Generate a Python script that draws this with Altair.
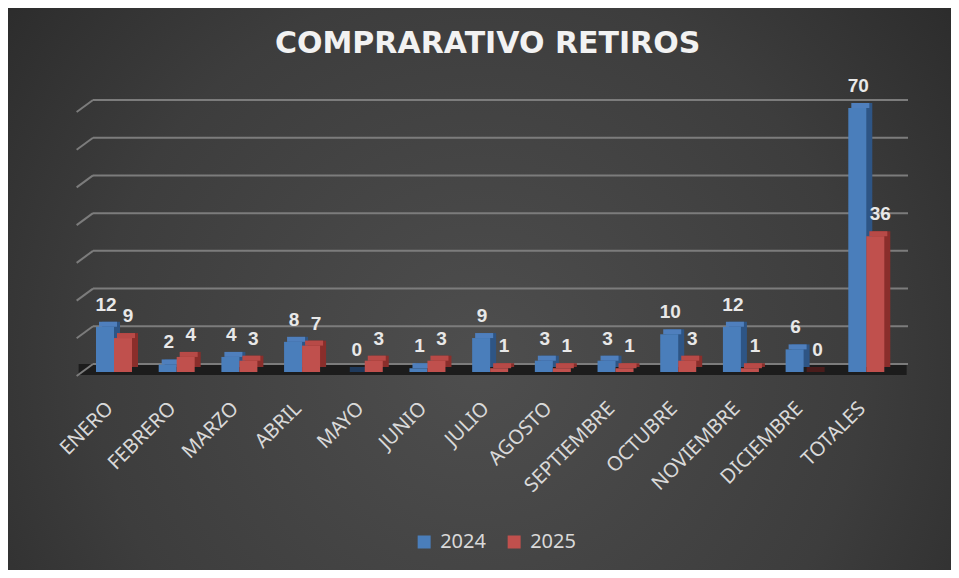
import altair as alt
import pandas as pd

# ---------------- data ----------------
months = ["ENERO", "FEBRERO", "MARZO", "ABRIL", "MAYO", "JUNIO", "JULIO",
          "AGOSTO", "SEPTIEMBRE", "OCTUBRE", "NOVIEMBRE", "DICIEMBRE", "TOTALES"]
values_2024 = [12, 2, 4, 8, 0, 1, 9, 3, 3, 10, 12, 6, 70]
values_2025 = [9, 4, 3, 7, 3, 3, 1, 1, 1, 3, 1, 0, 36]
series_names = ["2024", "2025"]
grid_values = [0, 10, 20, 30, 40, 50, 60, 70]
title_text = "COMPRARATIVO RETIROS"

rows = []
for m, a, b in zip(months, values_2024, values_2025):
    rows.append({"mes": m, "serie": series_names[0], "valor": a})
    rows.append({"mes": m, "serie": series_names[1], "valor": b})
df = pd.DataFrame(rows)
grid_df = pd.DataFrame({"v": grid_values})
title_df = pd.DataFrame({"t": [title_text]})

# ---------------- layout ----------------
W, H = 815, 264
PAD_L, PAD_T = 74.65, 100
CANVAS_W, CANVAS_H = 943, 562
PAD_R = CANVAS_W - PAD_L - W
PAD_B = CANVAS_H - PAD_T - H

BAR_W = 18
DEPTH_X, DEPTH_Y = 6, 5

front_colors = ["#4a7ebb", "#c0504d"]
top_colors = ["#4f7fbd", "#b84a47"]
side_colors = ["#2e5585", "#8a2e2b"]
flat_colors = ["#1f3a5c", "#4a1c1b"]

x_scale = alt.Scale(domain=months, paddingInner=0.4, paddingOuter=0.2)
y_scale = alt.Scale(domain=[0, 70], nice=False, zero=True)

X_AXIS = alt.Axis(title=None, labelAngle=-45, labelAlign="right", labelBaseline="middle",
                  labelFont="Noto Sans", labelFontSize=20, labelColor="#d9d9d9",
                  ticks=False, tickSize=0, domain=False, grid=False, labelPadding=33,
                  labelOffset=-4, zindex=1)

def X():
    return alt.X("mes:N", sort=months, scale=x_scale, axis=X_AXIS)

def Y():
    return alt.Y("valor:Q", scale=y_scale, axis=None)

# background radial gradient
bg = alt.Chart(title_df).mark_rect(
    color={"gradient": "radial",
           "stops": [{"offset": 0, "color": "#4e4e4e"},
                     {"offset": 0.55, "color": "#3d3d3d"},
                     {"offset": 1, "color": "#242424"}],
           "x1": 0.5, "y1": 0.58, "r1": 0, "x2": 0.5, "y2": 0.58, "r2": 0.74}
).encode(x=alt.value(-PAD_L), x2=alt.value(W + PAD_R),
         y=alt.value(-PAD_T), y2=alt.value(H + PAD_B))

zero_df = grid_df[grid_df["v"] == 0]
floor = alt.Chart(zero_df).mark_rect(color="#1c1c1c", yOffset=3, y2Offset=-8).encode(
    x=alt.value(-4), x2=alt.value(824),
    y=alt.Y("v:Q", scale=y_scale, axis=None), y2="v:Q")

grid = alt.Chart(grid_df).mark_rule(color="#7c7c7c", strokeWidth=2, yOffset=-8).encode(
    y=alt.Y("v:Q", scale=y_scale, axis=None),
    x=alt.value(10.35), x2=alt.value(825.35))

stubs = alt.Chart(grid_df).mark_rule(color="#7c7c7c", strokeWidth=2, yOffset=4, y2Offset=-8).encode(
    y=alt.Y("v:Q", scale=y_scale, axis=None), y2="v:Q",
    x=alt.value(-6), x2=alt.value(10.35))

layers = [bg, floor, grid, stubs]

label_dx = [-8, 14]
for i, s in enumerate(series_names):
    off = -BAR_W / 2 if i == 0 else BAR_W / 2
    base = alt.Chart(df).transform_filter(alt.datum.serie == s)
    side = base.mark_bar(width=BAR_W, xOffset=off + DEPTH_X, yOffset=-DEPTH_Y,
                         y2Offset=-DEPTH_Y, color=side_colors[i]).encode(x=X(), y=Y())
    top = base.mark_bar(width=BAR_W, xOffset=off + DEPTH_X / 2, yOffset=-DEPTH_Y,
                        y2Offset=0).encode(
        x=X(), y=Y(), y2="valor:Q",
        color=alt.condition(alt.datum.valor == 0, alt.value(flat_colors[i]),
                            alt.value(top_colors[i])))
    front = base.mark_bar(width=BAR_W, xOffset=off).encode(
        x=X(), y=Y(),
        color=alt.Color("serie:N", scale=alt.Scale(domain=series_names, range=front_colors),
                        legend=alt.Legend(orient="none", legendX=331.5, legendY=424,
                                          direction="horizontal", title=None,
                                          symbolType="square", symbolSize=169,
                                          symbolStrokeWidth=0, symbolOpacity=1,
                                          labelFont="Noto Sans", labelFontSize=20,
                                          labelColor="#d9d9d9", labelOffset=6,
                                          columnPadding=18, padding=0)))
    labels = base.mark_text(dx=label_dx[i], dy=-16, baseline="alphabetic", align="center",
                            font="Liberation Sans", fontWeight="bold", fontSize=19,
                            color="#e8e8e8").encode(x=X(), y=Y(), text="valor:Q")
    layers += [side, top, front, labels]

title = alt.Chart(title_df).mark_text(
    font="DejaVu Sans", fontWeight="bold", fontSize=30, color="#f2f2f2",
    align="center", baseline="alphabetic").encode(
    x=alt.value(405), y=alt.value(-54.7), text="t:N")
layers.append(title)

chart = alt.layer(*layers).properties(
    width=W, height=H,
    padding={"left": PAD_L, "top": PAD_T, "right": PAD_R, "bottom": PAD_B},
    autosize=alt.AutoSizeParams(type="none"),
    background="#2e2e2e",
).configure_view(stroke=None)

chart.save("out.html", embed_options={"renderer": "svg", "actions": False})
